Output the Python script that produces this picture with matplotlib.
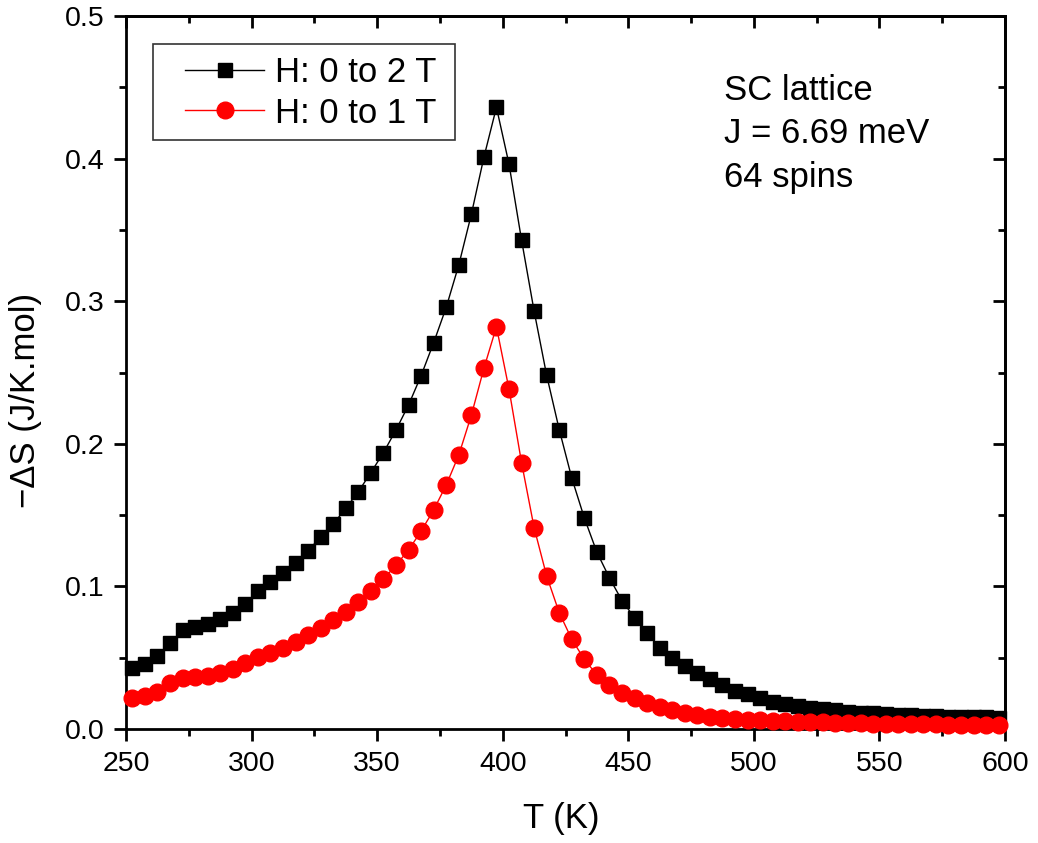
import matplotlib
matplotlib.use("Agg")
import matplotlib.pyplot as plt
from matplotlib.ticker import MultipleLocator, FormatStrFormatter
from matplotlib.patches import Rectangle

plt.rcParams['font.family'] = ['Liberation Sans', 'DejaVu Sans']

T = [252.5 + 5 * i for i in range(70)]

dS_2T = [0.0426, 0.0454, 0.0512, 0.0601, 0.0694, 0.0718, 0.0736, 0.0774, 0.0816, 0.0877,
         0.0966, 0.1029, 0.1092, 0.1167, 0.1248, 0.1349, 0.1438, 0.1547, 0.1664, 0.1798,
         0.1938, 0.2097, 0.2272, 0.2478, 0.2709, 0.2957, 0.3254, 0.3609, 0.4009, 0.4360,
         0.3962, 0.3429, 0.2931, 0.2480, 0.2100, 0.1760, 0.1480, 0.1240, 0.1060, 0.0900,
         0.0780, 0.0670, 0.0570, 0.0500, 0.0440, 0.0390, 0.0350, 0.0310, 0.0270, 0.0245,
         0.0215, 0.0190, 0.0175, 0.0160, 0.0150, 0.0140, 0.0130, 0.0122, 0.0115, 0.0110,
         0.0105, 0.0100, 0.0096, 0.0093, 0.0090, 0.0087, 0.0085, 0.0083, 0.0081, 0.0079]

dS_1T = [0.0220, 0.0231, 0.0262, 0.0320, 0.0355, 0.0367, 0.0374, 0.0395, 0.0423, 0.0460,
         0.0507, 0.0531, 0.0566, 0.0612, 0.0659, 0.0706, 0.0764, 0.0823, 0.0893, 0.0968,
         0.1050, 0.1150, 0.1255, 0.1388, 0.1536, 0.1711, 0.1921, 0.2200, 0.2529, 0.2821,
         0.2384, 0.1868, 0.1412, 0.1073, 0.0816, 0.0629, 0.0489, 0.0379, 0.0309, 0.0250,
         0.0215, 0.0180, 0.0156, 0.0133, 0.0110, 0.0098, 0.0087, 0.0075, 0.0070, 0.0063,
         0.0060, 0.0056, 0.0053, 0.0050, 0.0048, 0.0046, 0.0044, 0.0042, 0.0040, 0.0038,
         0.0037, 0.0035, 0.0034, 0.0033, 0.0032, 0.0031, 0.0030, 0.0029, 0.0028, 0.0027]

labels = ["H: 0 to 2 T", "H: 0 to 1 T"]
annotation_lines = ["SC lattice", "J = 6.69 meV", "64 spins"]

fig = plt.figure(figsize=(10.38, 8.43), dpi=100)
ax = fig.add_axes([0.1214, 0.1352, 0.8468, 0.8458])

ax.plot(T, dS_2T, color='black', lw=1.0, marker='s', markersize=10,
        label=labels[0], clip_on=False, zorder=3)
ax.plot(T, dS_1T, color='red', lw=1.0, marker='o', markersize=12,
        label=labels[1], clip_on=False, zorder=4)

ax.set_xlim(250, 600)
ax.set_ylim(0, 0.5)
ax.xaxis.set_major_locator(MultipleLocator(50))
ax.xaxis.set_minor_locator(MultipleLocator(25))
ax.yaxis.set_major_locator(MultipleLocator(0.1))
ax.yaxis.set_minor_locator(MultipleLocator(0.05))
ax.yaxis.set_major_formatter(FormatStrFormatter('%.1f'))

for s in ax.spines.values():
    s.set_linewidth(2)

ax.tick_params(which='both', direction='out', width=2, labelsize=20.5, pad=7)
ax.tick_params(which='major', length=8.6)
ax.tick_params(which='minor', length=5)

# inward ticks on top and right
ax_t = ax.secondary_xaxis('top')
ax_t.set_xticks(range(250, 601, 50))
ax_t.xaxis.set_minor_locator(MultipleLocator(25))
ax_t.tick_params(which='both', direction='in', width=2, labeltop=False)
ax_t.tick_params(which='major', length=8.6)
ax_t.tick_params(which='minor', length=5)
ax_t.spines['top'].set_linewidth(2)
ax_r = ax.secondary_yaxis('right')
ax_r.set_yticks([0, 0.1, 0.2, 0.3, 0.4, 0.5])
ax_r.yaxis.set_minor_locator(MultipleLocator(0.05))
ax_r.tick_params(which='both', direction='in', width=2, labelright=False)
ax_r.tick_params(which='major', length=8.6)
ax_r.tick_params(which='minor', length=5)
ax_r.spines['right'].set_linewidth(2)

ax.set_xlabel("T (K)", fontsize=25)
ax.xaxis.set_label_coords(0.4955, -0.102)
ax.set_ylabel("\u2212\u0394S (J/K.mol)", fontsize=25)
ax.yaxis.set_label_coords(-0.0956, 0.4614)

# legend frame drawn manually, legend itself without frame
ax.add_patch(Rectangle((0.0307, 0.8261), 0.3436, 0.1346, transform=ax.transAxes,
                       fill=True, facecolor='white', edgecolor='#333333', lw=1.2,
                       zorder=5, clip_on=False))
leg = ax.legend(loc='upper left', bbox_to_anchor=(0.0671, 0.944), fontsize=25,
                frameon=False, handlelength=2.28, borderpad=0, labelspacing=0.22,
                handletextpad=0.32, borderaxespad=0)
leg.set_zorder(6)

baselines_px = [100, 143, 187]
for line, b in zip(annotation_lines, baselines_px):
    ax.text((724 - 126) / 879, (729 - b) / 713, line, transform=ax.transAxes,
            fontsize=25, va='baseline', ha='left')

fig.savefig("out.png", dpi=100)
